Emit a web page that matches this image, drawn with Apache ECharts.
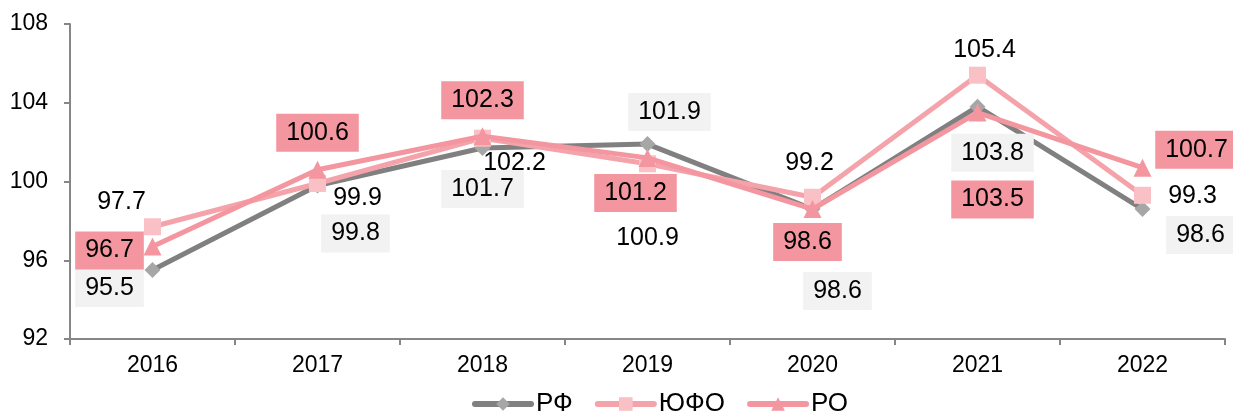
<!DOCTYPE html>
<html>
<head>
<meta charset="utf-8">
<script src="https://cdn.jsdelivr.net/npm/echarts@6/dist/echarts.min.js"></script>
<style>
  html, body { margin: 0; padding: 0; background: #fff; }
  #chart { width: 1233px; height: 416px; }
</style>
</head>
<body>
<div id="chart"></div>
<script>
    var years = ['2016', '2017', '2018', '2019', '2020', '2021', '2022'];
    var rfValues = [95.5, 99.8, 101.7, 101.9, 98.6, 103.8, 98.6];
    var ufoValues = [97.7, 99.9, 102.2, 100.9, 99.2, 105.4, 99.3];
    var roValues = [96.7, 100.6, 102.3, 101.2, 98.6, 103.5, 100.7];
    var yTicks = [92, 96, 100, 104, 108];

    // сдвиги подписей относительно точек (px)
    var rfOffsets = [[-43, 18], [38, 48], [0, 41], [22, -32], [25, 82], [15, 46], [58, 26]];
    var ufoOffsets = [[-31, -25], [40, 15], [32, 25], [0, 74], [-3, -34], [7, -25], [50, 1]];
    var roOffsets = [[-43, 4], [0, -37], [0, -36], [-12, 35], [-5, 33], [15, 87], [54, -18]];

    var FONT = 'Liberation Sans, Arial, sans-serif';

    var make_data = function(values, offsets){
        var out = [];
        for (var i = 0; i < values.length; i++) {
            out.push({value: values[i], label: {offset: offsets[i]}});
        }
        return out;
    };

    var labelBase = function(bg){
        return {
            show: true,
            position: 'inside',
            fontFamily: FONT,
            fontSize: 25,
            lineHeight: 26,
            color: '#000',
            backgroundColor: bg,
            padding: [6, 10],
            formatter: function(p){ return p.value.toFixed(1); }
        };
    };

    var myChart = echarts.init(document.getElementById('chart'));
    var chart_option = {
        animation: false,
        grid: {
            left: 70,
            right: 8,
            top: 24,
            bottom: 77
        },
        legend: {
            bottom: -6,
            left: 467,
            itemWidth: 56,
            itemHeight: 17,
            itemGap: 22,
            lineStyle: {width: 6, cap: 'round'},
            textStyle: {fontFamily: FONT, fontSize: 26, color: '#000'},
            data: ['РФ', 'ЮФО', 'РО']
        },
        xAxis: {
            type: 'category',
            data: years,
            boundaryGap: true,
            axisLine: {lineStyle: {color: '#868686', width: 2}},
            axisTick: {show: true, interval: 0, length: 6, lineStyle: {color: '#868686', width: 2}},
            axisLabel: {fontFamily: FONT, fontSize: 23, color: '#000', margin: 15},
            splitLine: {show: false}
        },
        yAxis: {
            type: 'value',
            min: yTicks[0],
            max: yTicks[yTicks.length - 1],
            interval: 4,
            axisLine: {show: true, lineStyle: {color: '#868686', width: 2}},
            axisTick: {show: true, length: 6, lineStyle: {color: '#868686', width: 2}},
            axisLabel: {fontFamily: FONT, fontSize: 23, color: '#000', margin: 22},
            splitLine: {show: false}
        },
        series: [
            {
                name: 'РФ',
                type: 'line',
                data: make_data(rfValues, rfOffsets),
                symbol: 'diamond',
                symbolSize: 16,
                lineStyle: {color: '#808080', width: 5},
                itemStyle: {color: '#a6a6a6'},
                label: labelBase('#f2f2f2'),
                z: 2
            },
            {
                name: 'ЮФО',
                type: 'line',
                data: make_data(ufoValues, ufoOffsets),
                symbol: 'rect',
                symbolSize: 17,
                lineStyle: {color: '#f4a3ab', width: 5},
                itemStyle: {color: '#f9c0c6'},
                label: labelBase('transparent'),
                z: 3
            },
            {
                name: 'РО',
                type: 'line',
                data: make_data(roValues, roOffsets),
                symbol: 'triangle',
                symbolSize: 18,
                lineStyle: {color: '#f4969f', width: 5},
                itemStyle: {color: '#f4969f'},
                label: labelBase('#f4969f'),
                z: 4
            }
        ]
    };
    myChart.setOption(chart_option);
</script>
</body>
</html>
